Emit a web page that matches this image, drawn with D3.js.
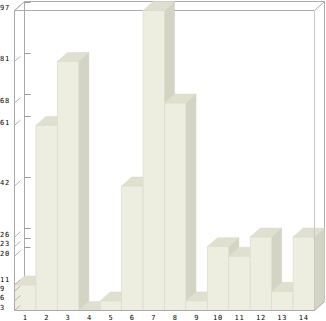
<!DOCTYPE html>
<html>
<head>
<meta charset="utf-8">
<script src="https://cdn.jsdelivr.net/npm/d3@7"></script>
<style>
  body { margin: 0; background: #fff; }
  text { font-family: "DejaVu Sans Mono", monospace; font-size: 7px; letter-spacing: 0.8px; fill: #000; }
</style>
</head>
<body>
<script>
// chart data
var categories = ["1", "2", "3", "4", "5", "6", "7", "8", "9", "10", "11", "12", "13", "14"];
var values = [11, 61, 81, 3, 6, 42, 97, 68, 6, 23, 20, 26, 9, 26];
var tickValues = [3, 6, 9, 11, 20, 23, 26, 42, 61, 68, 81, 97];

var width = 326,
    height = 321;

// front plane and depth offset ("top" is reserved on window, so use plot* names)
var plotLeft = 14.5, plotRight = 314.5, plotTop = 10.5, plotBottom = 310.5;
var dx = 10, dy = -9;

var svg = d3.select("body")
    .append("svg")
    .attr("width", width)
    .attr("height", height);

var x = d3.scaleBand()
    .domain(categories)
    .range([plotLeft, plotRight])
    .padding(0);

var y = d3.scaleLinear()
    .domain([d3.min(values), d3.max(values)])
    .range([plotBottom, plotTop]);

var lineColor = "#aaaaaa";

// back wall frame
var frame = svg.append("g").attr("fill", "none").attr("stroke", lineColor);
frame.append("line").attr("x1", plotLeft + dx).attr("y1", plotTop + dy).attr("x2", plotRight + dx).attr("y2", plotTop + dy);
frame.append("line").attr("x1", plotLeft + dx).attr("y1", plotTop + dy).attr("x2", plotLeft + dx).attr("y2", plotBottom + dy);
frame.append("line").attr("x1", plotRight + dx).attr("y1", plotTop + dy).attr("x2", plotRight + dx).attr("y2", plotBottom + dy);
frame.append("line").attr("x1", plotLeft).attr("y1", plotTop).attr("x2", plotLeft + dx).attr("y2", plotTop + dy);
frame.append("line").attr("x1", plotRight).attr("y1", plotTop).attr("x2", plotRight + dx).attr("y2", plotTop + dy);
frame.append("line").attr("x1", plotLeft).attr("y1", plotTop).attr("x2", plotRight).attr("y2", plotTop);

// ticks on back wall
svg.selectAll(".backTick")
    .data(tickValues)
    .enter()
    .append("line")
    .attr("class", "backTick")
    .attr("x1", plotLeft + dx)
    .attr("x2", plotLeft + dx + 6)
    .attr("y1", function(d){ return Math.round(y(d) + dy) + 0.5; })
    .attr("y2", function(d){ return Math.round(y(d) + dy) + 0.5; })
    .attr("stroke", "#999999");

// bars: side, top, front
var bars = svg.selectAll(".bar")
    .data(values)
    .enter()
    .append("g")
    .attr("class", "bar");

var bw = x.bandwidth();

bars.append("path")
    .attr("fill", "#d4d4c4")
    .attr("stroke", "#cdcdbd")
    .attr("stroke-width", 0.5)
    .attr("d", function(d, i){
        var x1 = x(categories[i]) + bw, yt = y(d);
        return "M" + x1 + "," + yt + "L" + (x1 + dx) + "," + (yt + dy) +
            "L" + (x1 + dx) + "," + (plotBottom + dy) + "L" + x1 + "," + plotBottom + "Z";
    });

bars.append("path")
    .attr("fill", "#e0e0d0")
    .attr("stroke", "#d8d8c8")
    .attr("stroke-width", 0.5)
    .attr("d", function(d, i){
        var x0 = x(categories[i]), yt = y(d);
        return "M" + x0 + "," + yt + "L" + (x0 + dx) + "," + (yt + dy) +
            "L" + (x0 + bw + dx) + "," + (yt + dy) + "L" + (x0 + bw) + "," + yt + "Z";
    });

bars.append("rect")
    .attr("fill", "#eeeee0")
    .attr("stroke", "#dcdccc")
    .attr("stroke-width", 0.7)
    .attr("x", function(d, i){ return x(categories[i]); })
    .attr("y", function(d){ return y(d); })
    .attr("width", bw)
    .attr("height", function(d){ return plotBottom - y(d); });

// front frame lines
var front = svg.append("g").attr("fill", "none").attr("stroke", lineColor);
front.append("line").attr("x1", plotLeft).attr("y1", plotTop).attr("x2", plotLeft).attr("y2", plotBottom);
front.append("line").attr("x1", plotLeft).attr("y1", plotBottom).attr("x2", plotRight).attr("y2", plotBottom);
front.append("line").attr("x1", plotRight).attr("y1", plotBottom).attr("x2", plotRight + dx).attr("y2", plotBottom + dy);
front.append("line").attr("x1", plotRight).attr("y1", plotTop).attr("x2", plotRight).attr("y2", plotBottom).attr("stroke", "#c8c8c8");

// short depth ticks at the front left edge
svg.selectAll(".depthTick")
    .data(tickValues)
    .enter()
    .append("line")
    .attr("class", "depthTick")
    .attr("x1", plotLeft)
    .attr("y1", function(d){ return y(d); })
    .attr("x2", plotLeft + 6)
    .attr("y2", function(d){ return y(d) - 5.4; })
    .attr("stroke", "#b4b4b4");

// y label positions, nudged upward when two labels crowd each other
var labelY = {};
var prevY = Infinity;
tickValues.forEach(function(v){
    var ly = Math.min(y(v) - 3, prevY - 8.5);
    labelY[v] = ly;
    prevY = ly;
});

// y labels
svg.selectAll(".yLabel")
    .data(tickValues)
    .enter()
    .append("text")
    .attr("class", "yLabel")
    .attr("x", 0)
    .attr("y", function(d){ return labelY[d]; })
    .attr("dy", "0.35em")
    .text(function(d){ return d; });

// x labels
svg.selectAll(".xLabel")
    .data(categories)
    .enter()
    .append("text")
    .attr("class", "xLabel")
    .attr("x", function(d){ return x(d) + bw / 2; })
    .attr("y", 320)
    .attr("text-anchor", "middle")
    .text(function(d){ return d; });
</script>
</body>
</html>
